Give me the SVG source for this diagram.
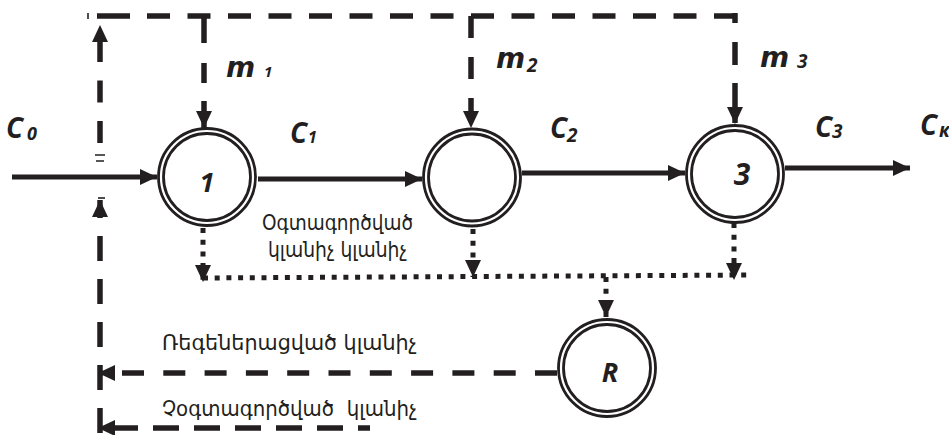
<svg xmlns="http://www.w3.org/2000/svg" width="949" height="435" viewBox="0 0 949 435">
  <style>
    .ring { fill: #fff; stroke: #231f20; stroke-width: 2.8; }
    .ring-in { fill: none; stroke: #231f20; stroke-width: 2.8; }
    .solid { fill: none; stroke: #231f20; stroke-width: 5; }
    .dash { fill: none; stroke: #231f20; stroke-width: 5.5; }
    .dot { fill: none; stroke: #231f20; stroke-width: 5; stroke-dasharray: 5 6.7; }
    .thin { fill: none; stroke: #231f20; stroke-width: 1.6; }
    .lbl { font-family: "Open Sans", "DejaVu Sans", sans-serif; font-weight: 700; font-style: italic; fill: #231f20; }
    .mlbl { font-family: "DejaVu Sans", "Open Sans", sans-serif; font-weight: 700; font-style: italic; fill: #231f20; }
    .arm { font-family: "DejaVu Sans", "Noto Sans", sans-serif; fill: #231f20; }
  </style>
  <defs>
    <marker id="ah" viewBox="0 0 17 16" refX="17" refY="8" markerWidth="17" markerHeight="16" markerUnits="userSpaceOnUse" orient="auto">
      <path d="M0,0 L17,8 L0,16 z" fill="#231f20"/>
    </marker>
  </defs>
  <rect width="949" height="435" fill="#fff"/>

  <!-- connectors -->
  <g id="connectors">
    <!-- main solid flow -->
    <path class="solid" d="M12,177 H157" marker-end="url(#ah)"/>
    <path class="solid" d="M258,179 H422" marker-end="url(#ah)"/>
    <path class="solid" d="M522,173 H685" marker-end="url(#ah)"/>
    <path class="solid" d="M785,168 H910" marker-end="url(#ah)"/>

    <!-- regenerated absorber feed along the top -->
    <path class="thin" d="M88,13 V19"/>
    <path class="dash" d="M97,16 H130"/>
    <path class="dash" d="M147,16 H742" stroke-dasharray="23 17.5"/>
    <path class="dash" d="M204,16 V128" stroke-dasharray="27 20 20 18 40" marker-end="url(#ah)"/>
    <path class="dash" d="M471,16 V128" stroke-dasharray="22 19" marker-end="url(#ah)"/>
    <path class="dash" d="M735,13 V124" stroke-dasharray="10 19 23 18 40" marker-end="url(#ah)"/>

    <!-- left return riser -->
    <path class="dash" d="M100,143 V25" stroke-dasharray="22 18.5" marker-end="url(#ah)"/>
    <path class="dash" d="M100,433 V200" stroke-dasharray="25 18" marker-end="url(#ah)"/>
    <path class="thin" d="M95,155 H105 M96,161 H104"/>
    <path class="thin" d="M98,198 H105"/>

    <!-- used absorber collection (dotted) -->
    <path class="dot" d="M203,228 V282" marker-end="url(#ah)"/>
    <path class="dot" d="M473,229 V277" marker-end="url(#ah)"/>
    <path class="dot" d="M734,223 V280" marker-end="url(#ah)"/>
    <path class="dot" d="M203,278 L752,275"/>
    <path class="dot" d="M606,277 V317" marker-end="url(#ah)"/>

    <!-- return lines from regenerator -->
    <path class="dash" d="M557,373 H98" stroke-dasharray="22 19.3" marker-end="url(#ah)"/>
    <path class="dash" d="M370,428 H98" stroke-dasharray="26 15" stroke-dashoffset="14" marker-end="url(#ah)"/>
  </g>

  <!-- absorber stage 1 -->
  <g id="node-1">
    <circle class="ring" cx="207" cy="177" r="48.5"/>
    <circle class="ring-in" cx="207" cy="177" r="43.5"/>
    <text class="lbl" x="207" y="192" font-size="27" text-anchor="middle">1</text>
  </g>

  <!-- absorber stage 2 -->
  <g id="node-2">
    <circle class="ring" cx="472" cy="177.5" r="48.5"/>
    <circle class="ring-in" cx="472" cy="177.5" r="43.5"/>
  </g>

  <!-- absorber stage 3 -->
  <g id="node-3">
    <circle class="ring" cx="735" cy="174" r="48.5"/>
    <circle class="ring-in" cx="735" cy="174" r="43.5"/>
    <text class="lbl" x="742" y="185" font-size="30" text-anchor="middle">3</text>
  </g>

  <!-- regenerator -->
  <g id="node-R">
    <circle class="ring" cx="607" cy="368" r="48.5"/>
    <circle class="ring-in" cx="607" cy="368" r="43.5"/>
    <text class="lbl" x="610" y="382" font-size="27" text-anchor="middle">R</text>
  </g>

  <!-- concentration labels -->
  <g id="labels">
    <text class="lbl" x="6" y="138" font-size="28">C</text>
    <text class="lbl" x="27" y="140" font-size="18">0</text>
    <text class="lbl" x="290" y="143" font-size="28">C</text>
    <text class="lbl" x="308" y="143" font-size="16">1</text>
    <text class="lbl" x="550" y="138" font-size="28">C</text>
    <text class="lbl" x="567" y="142" font-size="19">2</text>
    <text class="lbl" x="815" y="137" font-size="28">C</text>
    <text class="lbl" x="832" y="138" font-size="19">3</text>
    <text class="lbl" x="920" y="135" font-size="28">C</text>
    <text class="lbl" x="939" y="137" font-size="19">к</text>

    <text class="mlbl" x="226" y="77" font-size="28">m</text>
    <text class="lbl" x="264" y="77" font-size="15">1</text>
    <text class="mlbl" x="496" y="68" font-size="28">m</text>
    <text class="lbl" x="527" y="72" font-size="19">2</text>
    <text class="mlbl" x="760" y="67" font-size="28">m</text>
    <text class="lbl" x="797" y="68" font-size="19">3</text>

    <text class="arm" x="262" y="230" font-size="21" textLength="151" lengthAdjust="spacingAndGlyphs">Օգտագործված</text>
    <text class="arm" x="268" y="257" font-size="21" textLength="139" lengthAdjust="spacingAndGlyphs">կլանիչ կլանիչ</text>
    <text class="arm" x="162" y="350" font-size="21" textLength="255" lengthAdjust="spacingAndGlyphs">Ռեգեներացված կլանիչ</text>
    <text class="arm" x="162" y="416" font-size="21" textLength="255" lengthAdjust="spacingAndGlyphs" xml:space="preserve">Չօգտագործված  կլանիչ</text>
  </g>
</svg>
